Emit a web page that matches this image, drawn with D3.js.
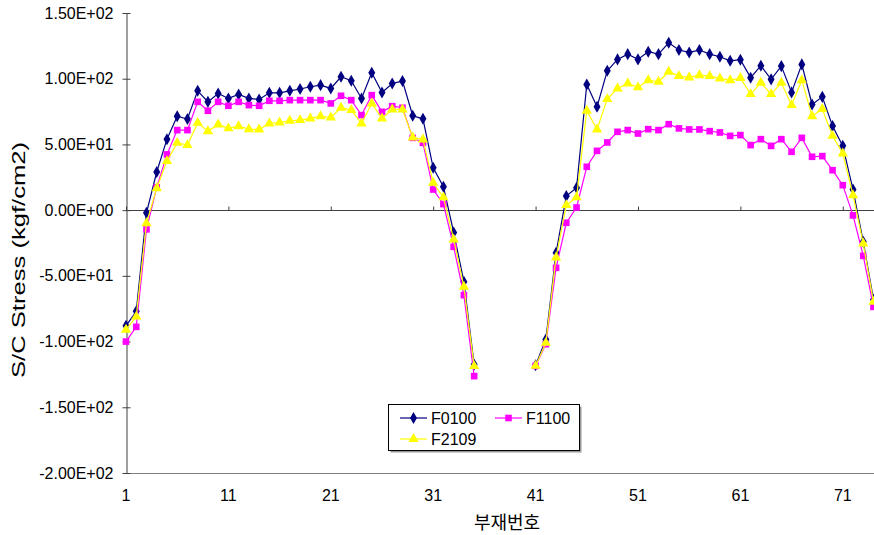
<!DOCTYPE html>
<html>
<head>
<meta charset="utf-8">
<script src="https://cdn.jsdelivr.net/npm/d3@7"></script>
<style>
  html, body { margin: 0; padding: 0; background: #fff; }
  svg { display: block; }
  text { font-family: Arial, "Liberation Sans", sans-serif; fill: #000; }
</style>
</head>
<body>
<svg id="chart" width="874" height="535"></svg>
<script>
// ---- data ----
const members = d3.range(1, 75); // 부재번호 1..74
const F0100 = [-88, -77, -2, 29, 54, 71.5, 69.3, 90.8, 82.4, 88.8,
  85, 88, 85, 84.2, 89.3, 89.3, 90.8, 92.2, 93.9, 95.1,
  92.6, 101.5, 98.4, 85, 104.5, 89.5, 96.4, 98.2, 71.8, 69.5,
  32.2, 17.8, -17, -54.5, -117.5, null, null, null, null, null,
  -118, -98.4, -32.5, 10.7, 17, 95.6, 78.6, 106, 114.7, 118.7,
  114.7, 120.5, 118.7, 127.3, 121.8, 120, 121.8, 118.7, 116.7, 113.6,
  114.5, 100.8, 109.9, 99.5, 109.6, 89.6, 110.9, 80.4, 86.2, 64,
  48.9, 15.7, -24.1, -68];
const F1100 = [-100, -88.8, -14.6, 17.3, 42.4, 60.9, 60.9, 82.4, 75.6, 82.4,
  79.4, 82.4, 79.9, 79.4, 83.2, 83.2, 83.7, 83.7, 83.7, 83.7,
  81.2, 87, 83.7, 72.3, 87.5, 74.8, 79.1, 77.9, 55, 51.2,
  15.7, 4.6, -27.9, -64.7, -126.3, null, null, null, null, null,
  -118.5, -102, -43.9, -9.6, 2, 33, 45.1, 51.5, 59.6, 60.9,
  58.3, 61.6, 60.9, 65.4, 62.2, 61.4, 61.4, 60.1, 59.1, 56.5,
  57.1, 49.5, 54, 48.9, 54, 44.4, 55, 40.6, 41.1, 30.4,
  19, -4, -34.8, -73.6];
const F2109 = [-91, -81, -10, 16.7, 37.3, 51.2, 49.5, 66.4, 60.1, 65.2,
  62.2, 63.9, 61.6, 61.4, 66, 66.7, 68, 68.5, 69.8, 71.5,
  70.5, 77.9, 76.1, 66, 81.2, 69.8, 76.6, 76.6, 55.3, 53.8,
  20.8, 9.7, -22.3, -58.3, -118.7, null, null, null, null, null,
  -118.5, -101, -36, 3.8, 9.7, 75.6, 61.4, 84.5, 92.6, 96.4,
  93.4, 98.9, 97.7, 105.3, 102, 101, 102.7, 102, 100.2, 98.9,
  100.5, 88.3, 96.9, 88.3, 96.9, 79.9, 98.9, 71.5, 76.9, 56.5,
  43.1, 11.4, -25.4, -69.8];
const seriesNames = ["F0100", "F1100", "F2109"];
const yTicks = [150, 100, 50, 0, -50, -100, -150, -200];
const xTickLabels = [1, 11, 21, 31, 41, 51, 61, 71];
const xTitle = "부재번호";
const yTitle = "S/C Stress (kgf/cm2)";

// ---- layout ----
const svg = d3.select("#chart");
const pLeft = 126, pRight = 873.5, pTop = 13, pBottom = 473;
const x = d3.scaleLinear().domain([1, 74]).range([pLeft, pRight]);
const y = d3.scaleLinear().domain([-200, 150]).range([pBottom, pTop]);

const styles = [
  { color: "#000080", symbol: d3.symbolDiamond, size: 42 },
  { color: "#FF00FF", symbol: d3.symbolSquare, size: 44 },
  { color: "#FFFF00", symbol: d3.symbolTriangle, size: 46 }
];
const allSeries = [F0100, F1100, F2109];

// bottom border line
svg.append("line").attr("x1", pLeft).attr("x2", 874).attr("y1", pBottom + 0.5).attr("y2", pBottom + 0.5)
  .attr("stroke", "#808080").attr("stroke-width", 1);

// y axis
const yAxis = d3.axisLeft(y).tickValues(yTicks)
  .tickFormat(d => {
    if (d === 0) return "0.00E+00";
    const s = Math.abs(d).toExponential(2).toUpperCase().replace(/E\+(\d)$/, "E+0$1");
    return (d < 0 ? "-" : "") + s;
  })
  .tickSizeInner(4).tickSizeOuter(0).tickPadding(9);
const yg = svg.append("g").attr("transform", `translate(${pLeft + 0.5},0)`).call(yAxis);
yg.select(".domain").attr("stroke", "#404040");
yg.selectAll(".tick line").attr("stroke", "#404040").attr("x2", 4).attr("x1", -4);
yg.selectAll(".tick text").style("font-size", "16px").style("font-family", "Arial, 'Liberation Sans', sans-serif").attr("fill", "#000");

// x axis along zero line
const xAxis = d3.axisTop(x).tickValues(xTickLabels).tickFormat("").tickSizeInner(4).tickSizeOuter(0);
const xg = svg.append("g").attr("transform", `translate(0,${Math.round(y(0)) + 0.5})`).call(xAxis);
xg.select(".domain").attr("stroke", "#404040").attr("d", `M${pLeft},0H874`);
xg.selectAll(".tick line").attr("stroke", "#404040");

// x tick labels at bottom
svg.append("g").selectAll("text").data(xTickLabels).join("text")
  .attr("x", d => x(d)).attr("y", 501)
  .attr("text-anchor", "middle")
  .style("font-size", "16px")
  .text(d => d);

// titles
svg.append("text").attr("x", 507).attr("y", 529).attr("text-anchor", "middle")
  .style("font-size", "18px").style("font-family", "'Noto Sans CJK KR', sans-serif")
  .text(xTitle);
svg.append("text").attr("transform", "translate(25,260) rotate(-90)").attr("text-anchor", "middle")
  .style("font-size", "18px")
  .attr("textLength", 236).attr("lengthAdjust", "spacingAndGlyphs")
  .text(yTitle);

// series
const line = d3.line().defined(d => d.v !== null).x(d => x(d.n)).y(d => y(d.v));
const plot = svg.append("g");
allSeries.forEach((vals, i) => {
  const pts = members.map((n, k) => ({ n, v: vals[k] }));
  const st = styles[i];
  const g = plot.append("g");
  g.append("path").datum(pts).attr("d", line)
    .attr("fill", "none").attr("stroke", st.color).attr("stroke-width", 1.2);
  g.selectAll("path.m").data(pts.filter(d => d.v !== null)).join("path")
    .attr("class", "m")
    .attr("transform", d => `translate(${x(d.n)},${y(d.v)})`)
    .attr("d", d3.symbol(st.symbol, st.size))
    .attr("fill", st.color).attr("stroke", "none");
});

// legend
const lg = svg.append("g");
lg.append("rect").attr("x", 390.5).attr("y", 406.5).attr("width", 191).attr("height", 46).attr("fill", "#999");
lg.append("rect").attr("x", 388.5).attr("y", 404.5).attr("width", 191).attr("height", 46)
  .attr("fill", "#fff").attr("stroke", "#000").attr("stroke-width", 1);
const legendPos = [[400, 418], [495, 418], [400, 439]];
seriesNames.forEach((name, i) => {
  const [lx, ly] = legendPos[i];
  const st = styles[i];
  lg.append("line").attr("x1", lx).attr("x2", lx + 27).attr("y1", ly).attr("y2", ly)
    .attr("stroke", st.color).attr("stroke-width", 1.2);
  lg.append("path").attr("transform", `translate(${lx + 13.5},${ly})`)
    .attr("d", d3.symbol(st.symbol, st.size)).attr("fill", st.color);
  lg.append("text").attr("x", lx + 31).attr("y", ly + 5.5).style("font-size", "16px").text(name);
});
</script>
</body>
</html>
